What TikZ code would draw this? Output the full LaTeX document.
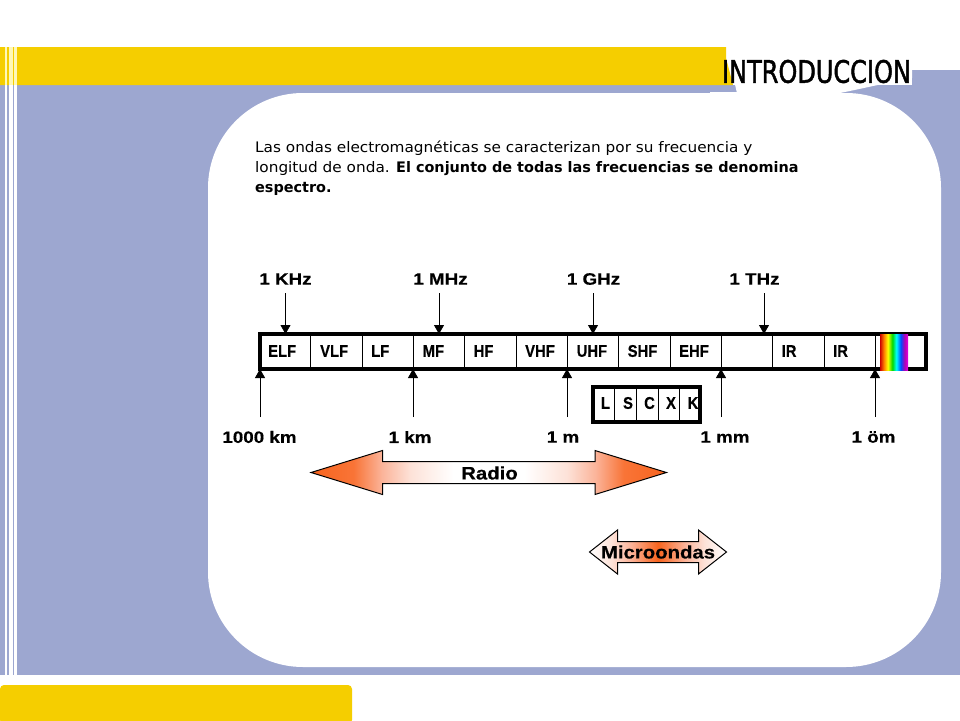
\documentclass[tikz,border=0pt]{standalone}
\usepackage{fontspec}
\newfontfamily\bodyfont[FakeStretch=1.055,BoldFeatures={FakeStretch=0.995}]{DejaVu Sans}
\newfontfamily\titlefont[FakeStretch=0.775,FakeBold=1.5]{DejaVu Sans}
\newfontfamily\tickfont[FakeStretch=1.14,FakeBold=0.4]{Liberation Sans Bold}
\newfontfamily\cellfont[FakeStretch=0.87,FakeBold=0.3]{Liberation Sans Bold}
\newfontfamily\bandfont[FakeStretch=1.13,FakeBold=0.4]{Liberation Sans Bold}
\usetikzlibrary{arrows.meta}
\definecolor{slideblue}{HTML}{9DA7D0}
\definecolor{slideyellow}{HTML}{F5CE00}
\definecolor{stripeyellow}{HTML}{FFF8B8}
\definecolor{bandorange}{HTML}{F8641E}
\definecolor{bandmid}{HTML}{FBB49A}
\definecolor{bandpale}{HTML}{FDE2D8}
\pgfdeclarehorizontalshading{rainbow}{100bp}{
  color(0bp)=(red!80!black);
  color(25bp)=(red!80!black);
  color(32bp)=(orange);
  color(39bp)=(yellow);
  color(47bp)=(green!85!black);
  color(54bp)=(cyan);
  color(62bp)=(blue!70!cyan);
  color(69bp)=(violet!60!magenta);
  color(75bp)=(magenta!80!violet);
  color(100bp)=(magenta!80!violet)}
\pgfdeclarehorizontalshading{radioband}{100bp}{
  color(0bp)=(bandorange);
  color(25bp)=(bandorange);
  color(31bp)=(bandorange!80!bandmid);
  color(35bp)=(bandmid);
  color(39bp)=(bandpale);
  color(45bp)=(white);
  color(55bp)=(white);
  color(61bp)=(bandpale);
  color(65bp)=(bandmid);
  color(69bp)=(bandorange!80!bandmid);
  color(75bp)=(bandorange);
  color(100bp)=(bandorange)}
\pgfdeclarehorizontalshading{microband}{100bp}{
  color(0bp)=(white);
  color(25bp)=(white);
  color(33bp)=(bandpale);
  color(40bp)=(bandmid);
  color(50bp)=(bandorange);
  color(60bp)=(bandmid);
  color(67bp)=(bandpale);
  color(75bp)=(white);
  color(100bp)=(white)}
\tikzset{
  tick/.style={font=\tickfont\fontsize{16.5}{18}\selectfont},
  cell/.style={anchor=west,inner sep=0pt,font=\cellfont\fontsize{17}{18}\selectfont},
  letter/.style={inner sep=0pt,font=\cellfont\fontsize{17}{18}\selectfont},
  band/.style={inner sep=0pt,font=\bandfont\fontsize{18}{20}\selectfont},
  bandline/.style={line width=1pt},
  marker/.style={line width=0.8pt,-{Triangle[width=10pt,length=9pt]}},
  divider/.style={line width=1pt}
}

\begin{document}
\begin{tikzpicture}

      \useasboundingbox (0pt,0pt) rectangle (960pt,-720pt);

      % Background
      \fill[white] (0pt,0pt) rectangle (960pt,-720pt);
      \fill[slideblue] (0pt,-85pt) rectangle (960pt,-675pt);
      \fill[slideblue] (912pt,-70pt) rectangle (960pt,-90pt);
      \fill[white] (726pt,-47pt) -- (737pt,-93pt) -- (840pt,-93pt)
        .. controls (865pt,-88pt) and (890pt,-82pt) .. (912pt,-78pt) -- (912pt,-47pt) -- cycle;
      \fill[white] (710pt,-92pt) rectangle (840pt,-94pt);
      \fill[slideyellow] (0pt,-47pt) -- (726pt,-47pt) -- (726pt,-58pt) -- (733pt,-85pt) -- (0pt,-85pt) -- cycle;
      \fill[white, rounded corners=95pt] (208pt,-93pt) rectangle (941pt,-667pt);

      % Stripes
      \fill[white] (5pt,-85pt) rectangle (6.5pt,-675pt);
      \fill[white] (9pt,-85pt) rectangle (12.5pt,-675pt);
      \fill[white] (14pt,-85pt) rectangle (16.5pt,-675pt);
      \fill[stripeyellow] (5pt,-47pt) rectangle (6.5pt,-85pt);
      \fill[stripeyellow] (9pt,-47pt) rectangle (12.5pt,-85pt);
      \fill[stripeyellow] (14pt,-47pt) rectangle (16.5pt,-85pt);

      % Footer
      \fill[slideyellow, rounded corners=4pt] (0pt,-685pt) rectangle (352pt,-724pt);

      % Title
      \node (title) at (816.5pt,-71.5pt) [inner sep=0pt] {\titlefont\fontsize{31}{33}\selectfont INTRODUCCION};

      % Text
      \node (intro) at (255pt,-168.5pt) [anchor=west, align=left, inner sep=0pt, font=\bodyfont\fontsize{14.5}{20}\selectfont]
        {Las ondas electromagnéticas se caracterizan por su frecuencia y\\
         longitud de onda. \textbf{El conjunto de todas las frecuencias se denomina}\\
         \textbf{espectro.}};

      %%%%%%%%%%%%%%%%%%%%%%%%%%

      % Spectrum bar
      \node (bar) at (593pt,-351.5pt) [draw, line width=4pt, minimum width=666pt, minimum height=35pt, inner sep=0pt] {};
      \draw[divider] (310pt,-334pt) -- (310pt,-369pt);
      \draw[divider] (362pt,-334pt) -- (362pt,-369pt);
      \draw[divider] (413pt,-334pt) -- (413pt,-369pt);
      \draw[divider] (464pt,-334pt) -- (464pt,-369pt);
      \draw[divider] (516pt,-334pt) -- (516pt,-369pt);
      \draw[divider] (567pt,-334pt) -- (567pt,-369pt);
      \draw[divider] (618pt,-334pt) -- (618pt,-369pt);
      \draw[divider] (670pt,-334pt) -- (670pt,-369pt);
      \draw[divider] (721pt,-334pt) -- (721pt,-369pt);
      \draw[divider] (772pt,-334pt) -- (772pt,-369pt);
      \draw[divider] (824pt,-334pt) -- (824pt,-369pt);
      \draw[divider] (875pt,-334pt) -- (875pt,-369pt);
      \shade[shading=rainbow] (880pt,-334pt) rectangle (908pt,-370pt);

      % Label
      \node (elf) at (268pt,-351pt) [cell] {ELF};
      \node (vlf) at (320pt,-351pt) [cell] {VLF};
      \node (lf) at (371pt,-351pt) [cell] {LF};
      \node (mf) at (422.5pt,-351pt) [cell] {MF};
      \node (hf) at (473.5pt,-351pt) [cell] {HF};
      \node (vhf) at (525pt,-351pt) [cell] {VHF};
      \node (uhf) at (576.5pt,-351pt) [cell] {UHF};
      \node (shf) at (627.5pt,-351pt) [cell] {SHF};
      \node (ehf) at (679pt,-351pt) [cell] {EHF};
      \node (ira) at (781.5pt,-351pt) [cell] {IR};
      \node (irb) at (833pt,-351pt) [cell] {IR};

      %%%%%%%%%%%%%%%%%%%%%%%%%%

      % Microwave bands
      \node (micro) at (646.5pt,-404.5pt) [draw, line width=4pt, minimum width=107pt, minimum height=35pt, inner sep=0pt] {};
      \draw[divider] (614pt,-387pt) -- (614pt,-422pt);
      \draw[divider] (636pt,-387pt) -- (636pt,-422pt);
      \draw[divider] (658pt,-387pt) -- (658pt,-422pt);
      \draw[divider] (679pt,-387pt) -- (679pt,-422pt);

      \node (bl) at (605.5pt,-403pt) [letter] {L};
      \node (bs) at (628pt,-403pt) [letter] {S};
      \node (bc) at (649.5pt,-403pt) [letter] {C};
      \node (bx) at (671pt,-403pt) [letter] {X};
      \node (bk) at (693pt,-403pt) [letter] {K};

      %%%%%%%%%%%%%%%%%%%%%%%%%%

      % Frequencies
      \node (khz) at (285.5pt,-279pt) [tick] {1 KHz};
      \node (mhz) at (440.5pt,-279pt) [tick] {1 MHz};
      \node (ghz) at (593.5pt,-279pt) [tick] {1 GHz};
      \node (thz) at (754.5pt,-279pt) [tick] {1 THz};

      % Lines
      \coordinate (khzin) at (285.5pt,-293pt);
      \coordinate (mhzin) at (439pt,-293pt);
      \coordinate (ghzin) at (593pt,-293pt);
      \coordinate (thzin) at (764pt,-293pt);
      \coordinate (khzbar) at (285.5pt,-334pt);
      \coordinate (mhzbar) at (439pt,-334pt);
      \coordinate (ghzbar) at (593pt,-334pt);
      \coordinate (thzbar) at (764pt,-334pt);
      \draw[marker] (khzin) -- (khzbar);
      \draw[marker] (mhzin) -- (mhzbar);
      \draw[marker] (ghzin) -- (ghzbar);
      \draw[marker] (thzin) -- (thzbar);

      % Wavelengths
      \node (kkm) at (259.5pt,-437pt) [tick] {1000 km};
      \node (km) at (410pt,-437pt) [tick] {1 km};
      \node (m) at (563pt,-437pt) [tick] {1 m};
      \node (mm) at (725pt,-437pt) [tick] {1 mm};
      \node (um) at (873.5pt,-437pt) [tick] {1 öm};

      % Lines
      \coordinate (kkmin) at (260pt,-417pt);
      \coordinate (kmin) at (413pt,-417pt);
      \coordinate (min) at (567pt,-417pt);
      \coordinate (mmin) at (721pt,-417pt);
      \coordinate (umin) at (875pt,-417pt);
      \coordinate (kkmbar) at (260pt,-369pt);
      \coordinate (kmbar) at (413pt,-369pt);
      \coordinate (mbar) at (567pt,-369pt);
      \coordinate (mmbar) at (721pt,-369pt);
      \coordinate (umbar) at (875pt,-369pt);
      \draw[marker] (kkmin) -- (kkmbar);
      \draw[marker] (kmin) -- (kmbar);
      \draw[marker] (min) -- (mbar);
      \draw[marker] (mmin) -- (mmbar);
      \draw[marker] (umin) -- (umbar);

      %%%%%%%%%%%%%%%%%%%%%%%%%%

      % Radio
      \shadedraw[bandline, shading=radioband]
        (311pt,-472.5pt) -- (382.5pt,-450.5pt) -- (382.5pt,-461.5pt) -- (595pt,-461.5pt) -- (595pt,-450.5pt)
        -- (666.5pt,-472.5pt) -- (595pt,-494.5pt) -- (595pt,-483.5pt) -- (382.5pt,-483.5pt) -- (382.5pt,-494.5pt) -- cycle;
      \node (radio) at (489.5pt,-473pt) [band] {Radio};

      % Microondas
      \shadedraw[bandline, shading=microband]
        (589.5pt,-552pt) -- (617.5pt,-530pt) -- (617.5pt,-541.5pt) -- (698.5pt,-541.5pt) -- (698.5pt,-530pt)
        -- (726.5pt,-552pt) -- (698.5pt,-574pt) -- (698.5pt,-562.5pt) -- (617.5pt,-562.5pt) -- (617.5pt,-574pt) -- cycle;
      \node (microondas) at (658pt,-552pt) [band] {Microondas};

\end{tikzpicture}
\end{document}
